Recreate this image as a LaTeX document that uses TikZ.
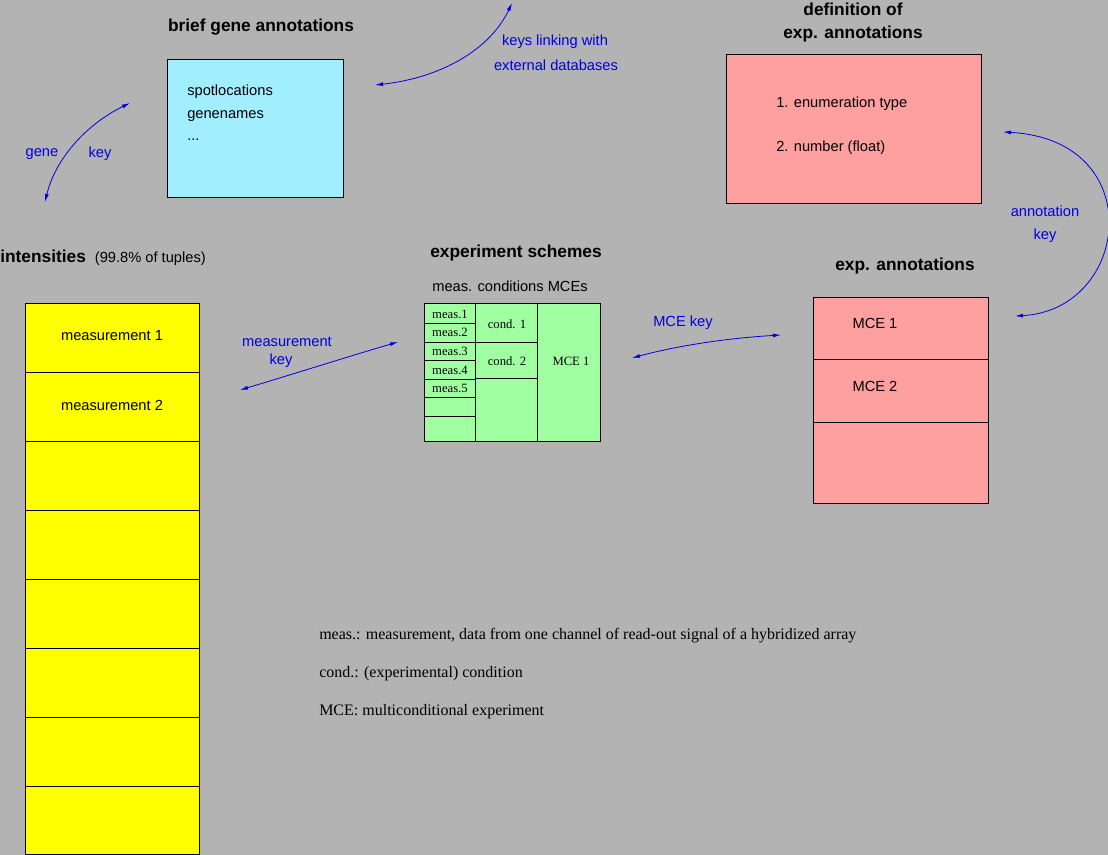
\documentclass[tikz,border=0pt]{standalone}
\usepackage{fontspec}
\setmainfont{Liberation Sans}
\newfontfamily\serf{Liberation Serif}
\usetikzlibrary{arrows.meta}
\definecolor{bg}{HTML}{B3B3B3}
\definecolor{cyanb}{HTML}{A0EEFF}
\definecolor{pinkb}{HTML}{FFA0A0}
\definecolor{greenb}{HTML}{A0FFA0}
\definecolor{yell}{HTML}{FFFF00}
\definecolor{arr}{HTML}{0000E0}
\tikzset{
 box/.style={draw=black,line width=0.6pt},
 txt/.style={font=\fontsize{11}{13}\selectfont,inner sep=0pt},
 ttl/.style={font=\fontsize{13}{15}\selectfont\bfseries,inner sep=0pt},
 blu/.style={font=\fontsize{11}{13}\selectfont,text=arr,inner sep=0pt},
 ser/.style={font=\serf\fontsize{12}{14}\selectfont,inner sep=0pt,anchor=west},
 sm/.style={font=\serf\fontsize{9.5}{11}\selectfont,inner sep=0pt},
 link/.style={draw=arr,line width=0.6pt,{Latex[length=6pt,width=3pt]}-{Latex[length=6pt,width=3pt]}}
}
\begin{document}
\begin{tikzpicture}[x=0.75pt,y=-0.75pt]
\fill[bg] (0,0) rectangle (1108,855);
\useasboundingbox (0,0) rectangle (1108,855);
% brief gene annotations
\node[ttl] (tgene) at (261,27) {brief gene annotations};
\draw[box,fill=cyanb] (167,59) rectangle (343,197);
\node[txt,anchor=west] (g1) at (187,92) {spotlocations};
\node[txt,anchor=west] (g2) at (187,116) {genenames};
\node[txt,anchor=west] (g3) at (187,140) {...};
\coordinate (ga) at (130,103); \coordinate (gb) at (45,202);
\draw[link] (ga) .. controls (85,125) and (55,160) .. (gb);
\node[blu] (lg1) at (42,154) {gene};
\node[blu] (lg2) at (100,154) {key};
\coordinate (ea) at (375,85); \coordinate (eb) at (512,3);
\draw[link] (ea) .. controls (440,78) and (490,50) .. (eb);
\node[blu] (le1) at (555,42) {keys linking with};
\node[blu] (le2) at (556,65) {external databases};
% definition
\node[ttl] (td1) at (853,9) {definition of};
\node[ttl] (td2) at (853,34) {exp. annotations};
\draw[box,fill=pinkb] (726,54) rectangle (981,203);
\node[txt,anchor=west] (d1) at (776,104) {1. enumeration type};
\node[txt,anchor=west] (d2) at (776,148) {2. number (float)};
\coordinate (aa) at (1003,132); \coordinate (ab) at (1015,316);
\draw[link] (aa) .. controls (1150,140) and (1130,310) .. (ab);
\node[blu] (la1) at (1045,211) {annotation};
\node[blu] (la2) at (1045,236) {key};
% intensities
\node[ttl,anchor=west] (tint) at (0,258) {intensities \fontsize{11}{13}\selectfont\mdseries\ (99.8\% of tuples)};
\foreach \a/\b in {303/372,372/441,441/510,510/579,579/648,648/717,717/786,786/854}
  \draw[box,fill=yell] (25,\a) rectangle (199,\b);
\node[txt] (m1) at (112,336) {measurement 1};
\node[txt] (m2) at (112,405) {measurement 2};
\coordinate (ma) at (240,390); \coordinate (mb) at (398,342);
\draw[link] (ma) .. controls (300,372) and (350,356) .. (mb);
\node[blu] (lm1) at (287,342) {measurement};
\node[blu] (lm2) at (281,361) {key};
% experiment schemes
\node[ttl] (tes) at (516,253) {experiment schemes};
\node[txt] (tes2) at (510,286) {meas. conditions MCEs};
\draw[box,fill=greenb] (424,303) rectangle (600,441);
\draw[box] (475,303) -- (475,441) (537,303) -- (537,441);
\foreach \y in {323,342,360,379,397,416} \draw[box] (424,\y) -- (475,\y);
\draw[box] (475,342) -- (537,342) (475,378) -- (537,378);
\node[sm] (s1) at (450,314) {meas.1};
\node[sm] (s2) at (450,332) {meas.2};
\node[sm] (s3) at (450,351) {meas.3};
\node[sm] (s4) at (450,370) {meas.4};
\node[sm] (s5) at (450,388) {meas.5};
\node[sm] (c1) at (507,324) {cond. 1};
\node[sm] (c2) at (507,361) {cond. 2};
\node[sm] (mce) at (571,361) {MCE 1};
\coordinate (ka) at (632,358); \coordinate (kb) at (781,335);
\draw[link] (ka) .. controls (680,345) and (730,338) .. (kb);
\node[blu] (lk) at (683,323) {MCE key};
% exp annotations
\node[ttl] (tea) at (905,266) {exp. annotations};
\draw[box,fill=pinkb] (813,297) rectangle (988,503);
\draw[box] (813,359) -- (988,359) (813,422) -- (988,422);
\node[txt] (e1) at (875,323) {MCE 1};
\node[txt] (e2) at (875,386) {MCE 2};
% legend
\node[ser] (n1) at (319,636) {meas.: measurement, data from one channel of read-out signal of a hybridized array};
\node[ser] (n2) at (319,674) {cond.: (experimental) condition};
\node[ser] (n3) at (319,712) {MCE: multiconditional experiment};
\end{tikzpicture}
\end{document}
